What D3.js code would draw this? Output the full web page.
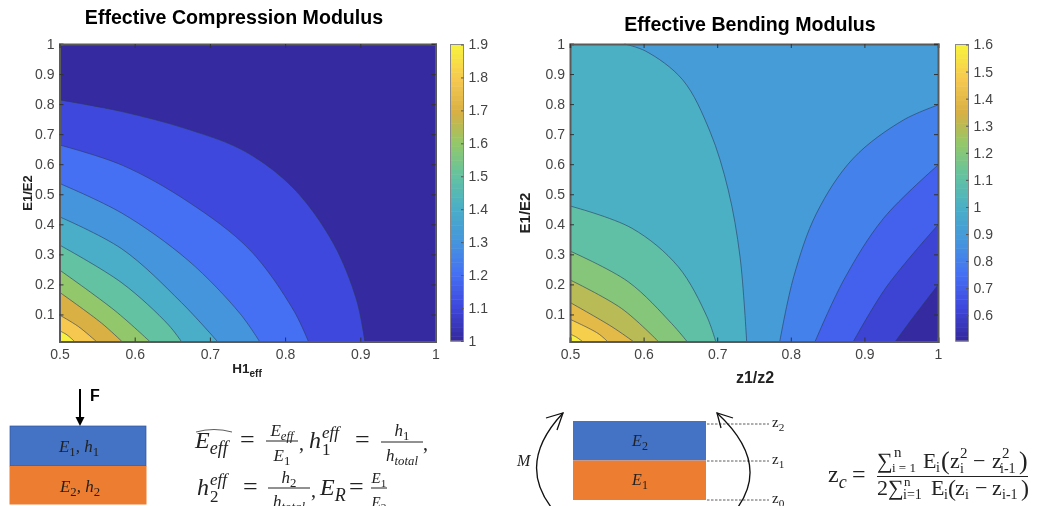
<!DOCTYPE html>
<html>
<head>
<meta charset="utf-8">
<script src="https://d3js.org/d3.v7.min.js"></script>
<style>
  html, body { margin: 0; padding: 0; background: #fff; overflow: hidden; }
  svg { display: block; filter: blur(0.35px); }
  .tick text { font-family: "Liberation Sans", Arial, sans-serif; font-size: 14px; fill: #444; }
  .title { font-family: "Liberation Sans", Arial, sans-serif; font-weight: bold; font-size: 19.6px; fill: #000; text-anchor: middle; }
  .axlabel { font-family: "Liberation Sans", Arial, sans-serif; font-weight: bold; fill: #222; text-anchor: middle; }
  .math { font-family: "Liberation Serif", serif; fill: #222; }
</style>
</head>
<body>
<script>
// tick labels
var xTicks = [0.5, 0.6, 0.7, 0.8, 0.9, 1]
var yTicks = [0.1, 0.2, 0.3, 0.4, 0.5, 0.6, 0.7, 0.8, 0.9, 1]
var compBarTicks = [1, 1.1, 1.2, 1.3, 1.4, 1.5, 1.6, 1.7, 1.8, 1.9]
var bendBarTicks = [0.6, 0.7, 0.8, 0.9, 1, 1.1, 1.2, 1.3, 1.4, 1.5, 1.6]

// colormap stops
var cmapStops = ['#352a9f', '#3f48dd', '#4570f4', '#4595dd', '#4aaec8', '#62c2a2', '#92c86b', '#d8b044', '#f6c850', '#f8f03f']

// compression modulus contours, [H1eff, E1/E2], outermost first
var comp11 = [[.5,.814],[.583,.775],[.671,.716],[.747,.642],[.811,.52],[.864,.337],[.895,.148],[.906,.01]]
var comp12 = [[.5,.664],[.583,.597],[.671,.475],[.753,.315],[.811,.115],[.831,.01]]
var comp13 = [[.5,.536],[.583,.437],[.671,.28],[.74,.103],[.766,.01]]
var comp14 = [[.5,.425],[.583,.318],[.662,.14],[.71,.01]]
var comp15 = [[.5,.331],[.583,.205],[.645,.065],[.662,.01]]
var comp16 = [[.5,.248],[.574,.112],[.62,.01]]
var comp17 = [[.5,.174],[.556,.071],[.583,.01]]
var comp18 = [[.5,.098],[.525,.06],[.549,.01]]
var comp19 = [[.5,.046],[.51,.032],[.52,.01]]
var compLevels = [1.1, 1.2, 1.3, 1.4, 1.5, 1.6, 1.7, 1.8, 1.9]

// bending modulus contours, [z1/z2, E1/E2]
var bendLeftA = [[.574,1],[.603,.976],[.653,.881],[.69,.71],[.715,.514],[.731,.292],[.74,.01]]
var bendLeftB = [[.5,.461],[.584,.387],[.647,.259],[.686,.093],[.698,.01]]
var bendLeftC = [[.5,.311],[.579,.209],[.638,.07],[.659,.01]]
var bendLeftD = [[.5,.215],[.57,.12],[.62,.01]]
var bendLeftE = [[.5,.14],[.557,.059],[.586,.01]]
var bendLeftF = [[.5,.084],[.538,.037],[.551,.01]]
var bendLeftG = [[.5,.035],[.509,.024],[.517,.01]]
var bendRightA = [[.785,.01],[.804,.226],[.835,.437],[.885,.62],[.953,.747],[1,.797]]
var bendRightB = [[.833,.01],[.872,.215],[.926,.42],[1,.597]]
var bendRightC = [[.885,.01],[.93,.192],[1,.398]]
var bendRightD = [[.942,.01],[.967,.093],[1,.198]]

var width = 1043, height = 506
var svg = d3.select('body').append('svg').attr('width', width).attr('height', height)

var cmap = d3.scaleLinear()
  .domain(cmapStops.map(function(d, i){ return i / (cmapStops.length - 1) }))
  .range(cmapStops)

function drawAxes(g, x, y) {
  var bottom = g.append('g').attr('transform', 'translate(0,' + y.range()[0] + ')')
    .call(d3.axisBottom(x).tickValues(xTicks).tickSize(-4).tickPadding(8).tickFormat(String))
  var left = g.append('g').attr('transform', 'translate(' + x.range()[0] + ',0)')
    .call(d3.axisLeft(y).tickValues(yTicks).tickSize(-4).tickPadding(5).tickFormat(String))
  var top = g.append('g').attr('transform', 'translate(0,' + y.range()[1] + ')')
    .call(d3.axisTop(x).tickValues(xTicks).tickSize(-4).tickFormat(''))
  var right = g.append('g').attr('transform', 'translate(' + x.range()[1] + ',0)')
    .call(d3.axisRight(y).tickValues(yTicks).tickSize(-4).tickFormat(''))
  ;[bottom, left, top, right].forEach(function(a){
    a.selectAll('path').attr('stroke', '#5a5a5a').attr('stroke-width', 2)
    a.selectAll('line').attr('stroke', '#333').attr('stroke-width', 1)
  })
}

function drawBand(g, x, y, pts, corner, fill) {
  var line = d3.line().x(function(d){ return x(d[0]) }).y(function(d){ return y(d[1]) }).curve(d3.curveCatmullRom.alpha(0.5))
  var c = corner.map(function(p){ return 'L' + x(p[0]) + ',' + y(p[1]) }).join('')
  g.append('path').attr('d', line(pts) + c + 'Z').attr('fill', fill)
  g.append('path').attr('d', line(pts)).attr('fill', 'none').attr('stroke', '#2b3a5c').attr('stroke-opacity', 0.75).attr('stroke-width', 0.8)
}

function drawColorbar(g, bx, bw, top, bottom, domain, ticks) {
  var y = d3.scaleLinear().domain(domain).range([bottom, top])
  var steps = d3.range(0, 64)
  g.selectAll('rect.cb').data(steps).enter().append('rect')
    .attr('class', 'cb')
    .attr('x', bx).attr('width', bw)
    .attr('y', function(d){ return bottom - (d + 1) * (bottom - top) / 64 })
    .attr('height', (bottom - top) / 64 + 0.5)
    .attr('fill', function(d){ return cmap(d / 63) })
  g.append('rect').attr('x', bx).attr('y', top).attr('width', bw).attr('height', bottom - top)
    .attr('fill', 'none').attr('stroke', '#8a8a8a').attr('stroke-width', 1)
  var a = g.append('g').attr('transform', 'translate(' + (bx + bw) + ',0)')
    .call(d3.axisRight(y).tickValues(ticks).tickSize(-2.5).tickPadding(5).tickFormat(String))
  a.select('path').remove()
  a.selectAll('line').attr('stroke', '#555')
}

// left panel
var x1 = d3.scaleLinear().domain([0.5, 1]).range([59.5, 435.5])
var y1 = d3.scaleLinear().domain([0.01, 1]).range([341.5, 44])
var g1 = svg.append('g')
g1.append('rect').attr('x', x1(0.5)).attr('y', y1(1)).attr('width', x1(1) - x1(0.5)).attr('height', y1(0.01) - y1(1)).attr('fill', cmap(0))
;[comp11, comp12, comp13, comp14, comp15, comp16, comp17, comp18, comp19].forEach(function(c, i){
  drawBand(g1, x1, y1, c, [[0.5, 0.01]], cmap((compLevels[i] - 1) / 0.9))
})
drawAxes(g1, x1, y1)
drawColorbar(g1, 450.5, 13, 44.5, 341, [1, 1.9], compBarTicks)
svg.append('text').attr('class', 'title').attr('x', 234).attr('y', 24).text('Effective Compression Modulus')
svg.append('text').attr('class', 'axlabel').attr('font-size', 13).attr('transform', 'translate(31.5,193) rotate(-90)').text('E1/E2')
var h1 = svg.append('text').attr('class', 'axlabel').attr('font-size', 13.5).attr('x', 247).attr('y', 373)
h1.append('tspan').text('H1')
h1.append('tspan').attr('dy', 4).attr('font-size', 10).text('eff')

// right panel
var x2 = d3.scaleLinear().domain([0.5, 1]).range([570, 938])
var y2 = d3.scaleLinear().domain([0.01, 1]).range([341.5, 44])
var g2 = svg.append('g')
var bendBands = 12
function bendColor(i) { return cmap(i / (bendBands - 1)) }
g2.append('rect').attr('x', x2(0.5)).attr('y', y2(1)).attr('width', x2(1) - x2(0.5)).attr('height', y2(0.01) - y2(1)).attr('fill', bendColor(4))
drawBand(g2, x2, y2, bendLeftA, [[0.5, 0.01], [0.5, 1]], bendColor(5))
;[bendLeftB, bendLeftC, bendLeftD, bendLeftE, bendLeftF, bendLeftG].forEach(function(c, i){
  drawBand(g2, x2, y2, c, [[0.5, 0.01]], bendColor(6 + i))
})
;[bendRightA, bendRightB, bendRightC, bendRightD].forEach(function(c, i){
  drawBand(g2, x2, y2, c, [[1, 0.01]], bendColor(3 - i))
})
drawAxes(g2, x2, y2)
drawColorbar(g2, 955.5, 13, 44.5, 341, [0.505, 1.6], bendBarTicks)
svg.append('text').attr('class', 'title').attr('x', 750).attr('y', 31).text('Effective Bending Modulus')
svg.append('text').attr('class', 'axlabel').attr('font-size', 15).attr('transform', 'translate(530,213) rotate(-90)').text('E1/E2')
svg.append('text').attr('class', 'axlabel').attr('font-size', 16).attr('x', 755).attr('y', 383).text('z1/z2')

// math text helper: segments are [text, kind] with kind n, i, sub, sup, isub, isup
function math(x, y, size, segs, anchor) {
  var t = svg.append('text').attr('class', 'math').attr('x', x).attr('y', y).attr('font-size', size).attr('text-anchor', anchor || 'start')
  var level = 0
  segs.forEach(function(s){
    var kind = s[1] || 'i'
    var target = /sub/.test(kind) ? size * 0.25 : /sup/.test(kind) ? -size * 0.42 : 0
    var sp = t.append('tspan').attr('dy', target - level).text(s[0])
    if (kind == 'i' || kind == 'isub' || kind == 'isup') sp.attr('font-style', 'italic')
    if (kind != 'i' && kind != 'n') sp.attr('font-size', size * 0.75)
    level = target
  })
  return t
}
function plain(x, y, size, s, italic) {
  return math(x, y, size, [[s, italic ? 'i' : 'n']])
}
function hrule(x0, x1_, y) {
  svg.append('line').attr('x1', x0).attr('x2', x1_).attr('y1', y).attr('y2', y).attr('stroke', '#222').attr('stroke-width', 1)
}

// compression sketch
var blue = '#4472c4', orange = '#ed7d31'
svg.append('rect').attr('x', 10).attr('y', 426).attr('width', 136).attr('height', 40).attr('fill', blue).attr('stroke', '#2f5597').attr('stroke-width', 0.7)
svg.append('rect').attr('x', 9.5).attr('y', 466).attr('width', 137).attr('height', 38.5).attr('fill', orange)
svg.append('line').attr('x1', 80).attr('x2', 80).attr('y1', 389).attr('y2', 418).attr('stroke', '#000').attr('stroke-width', 2)
svg.append('path').attr('d', 'M75.5,417L84.5,417L80,426Z').attr('fill', '#000')
svg.append('text').attr('x', 90).attr('y', 401).attr('font-family', 'Liberation Sans').attr('font-weight', 'bold').attr('font-size', 16).attr('fill', '#000').text('F')
math(79, 452, 17, [['E'], ['1', 'sub'], [', h', 'i'], ['1', 'sub']], 'middle')
math(80, 492, 17, [['E'], ['2', 'sub'], [', h', 'i'], ['2', 'sub']], 'middle')

// first equations
math(195, 448, 24, [['E'], ['eff', 'isub']])
svg.append('path').attr('d', 'M196,432Q214,427 232,432').attr('fill', 'none').attr('stroke', '#333').attr('stroke-width', 0.8)
plain(240, 448, 26, '=')
math(282, 436, 17, [['E'], ['eff', 'isub']], 'middle')
hrule(266, 298, 441)
math(282, 461, 17, [['E'], ['1', 'sub']], 'middle')
plain(299, 450, 20, ',')
plain(309, 448, 24, 'h', true)
plain(322, 438, 17, 'eff', true)
plain(322, 455, 17, '1')
plain(355, 448, 26, '=')
math(402, 436, 17, [['h'], ['1', 'sub']], 'middle')
hrule(381, 423, 442)
math(402, 461, 17, [['h'], ['total', 'isub']], 'middle')
plain(423, 450, 20, ',')

plain(197, 495, 24, 'h', true)
plain(210, 485, 17, 'eff', true)
plain(210, 502, 17, '2')
plain(243, 495, 26, '=')
math(289, 483, 17, [['h'], ['2', 'sub']], 'middle')
hrule(268, 310, 488)
math(289, 507, 17, [['h'], ['total', 'isub']], 'middle')
plain(311, 497, 20, ',')
math(320, 495, 24, [['E'], ['R', 'isub']])
plain(349, 495, 26, '=')
math(379, 483, 15, [['E'], ['1', 'sub']], 'middle')
hrule(371, 387, 488)
math(379, 507, 15, [['E'], ['2', 'sub']], 'middle')

// bending sketch
svg.append('rect').attr('x', 573).attr('y', 421).attr('width', 133).attr('height', 39.5).attr('fill', blue)
svg.append('rect').attr('x', 573).attr('y', 460.5).attr('width', 133).attr('height', 39.5).attr('fill', orange)
math(640, 446, 16, [['E'], ['2', 'sub']], 'middle')
math(640, 485, 16, [['E'], ['1', 'sub']], 'middle')
;[[424, 'z', '2'], [461, 'z', '1'], [500, 'z', '0']].forEach(function(d){
  svg.append('line').attr('x1', 707).attr('x2', 769).attr('y1', d[0]).attr('y2', d[0]).attr('stroke', '#333').attr('stroke-width', 0.8).attr('stroke-dasharray', '2.5,1.5')
  math(772, d[0] + 3, 15, [[d[1], 'n'], [d[2], 'sub']])
})
math(517, 466, 16, [['M']])
var arrowStyle = function(s){ return s.attr('fill', 'none').attr('stroke', '#111').attr('stroke-width', 1.3) }
arrowStyle(svg.append('path').attr('d', 'M551,507Q517,462 563,413'))
arrowStyle(svg.append('path').attr('d', 'M546,418L563,413L557,430'))
arrowStyle(svg.append('path').attr('d', 'M738,507Q770,462 717,413'))
arrowStyle(svg.append('path').attr('d', 'M733,418L717,413L721,428'))

// centroid equation
math(828, 482, 24, [['z', 'n'], ['c', 'isub']])
plain(852, 482, 24, '=')
plain(877, 468, 22, '∑')
plain(894, 457, 15, 'n')
plain(892, 472, 13, 'i = 1')
plain(923, 468, 22, 'E')
plain(936, 472, 14, 'i')
plain(941, 469, 26, '(')
plain(950, 468, 22, 'z')
plain(960, 458, 15, '2')
plain(960, 473, 14, 'i')
plain(973, 468, 22, '−')
plain(992, 468, 22, 'z')
plain(1002, 458, 15, '2')
plain(1000, 473, 14, 'i-1')
plain(1019, 469, 26, ')')
hrule(877, 1028, 476.5)
plain(877, 495, 22, '2')
plain(888, 495, 22, '∑')
plain(904, 486, 13, 'n')
plain(903, 499, 14, 'i=1')
plain(931, 495, 22, 'E')
plain(944, 499, 14, 'i')
plain(948, 496, 24, '(')
plain(955, 495, 22, 'z')
plain(965, 499, 14, 'i')
plain(975, 495, 22, '−')
plain(992, 495, 22, 'z')
plain(1002, 499, 14, 'i-1')
plain(1021, 496, 24, ')')
</script>
</body>
</html>
